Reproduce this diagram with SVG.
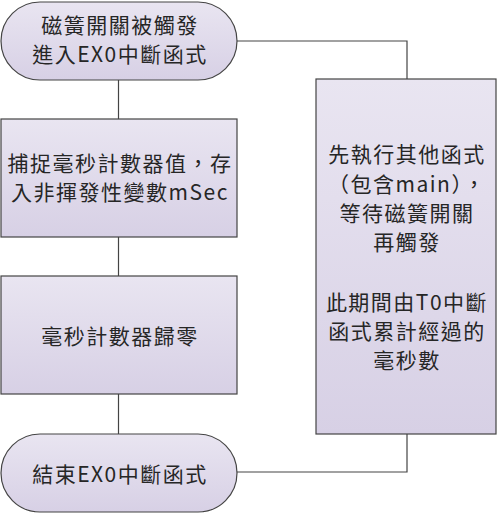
<svg xmlns="http://www.w3.org/2000/svg" width="497" height="514" viewBox="0 0 497 514">
<defs>
<linearGradient id="g" x1="0" y1="0" x2="0" y2="1">
<stop offset="0" stop-color="#e9e5f1"/>
<stop offset="1" stop-color="#d7d0e5"/>
</linearGradient>
<style>
.n{fill:url(#g);stroke:#444;stroke-width:1.2}
.t{font-family:"Noto Sans CJK TC","Noto Sans CJK SC",sans-serif;font-size:21px;letter-spacing:1.5px;fill:#262626;text-anchor:middle;dominant-baseline:central}
.c{fill:none;stroke:#444;stroke-width:1.2}
</style>
</defs>
<g id="connectors">
<path class="c" d="M118.5 80V119"/>
<path class="c" d="M118.5 237V276"/>
<path class="c" d="M118.5 394V434"/>
<path class="c" d="M237 41H407V79"/>
<path class="c" d="M237 472H407V434"/>
</g>
<g id="start">
<rect class="n" x="1" y="2" width="236" height="78" rx="39" ry="39"/>
<text class="t" x="120" y="24">磁簧開關被觸發</text>
<text class="t" x="120" y="53">進入EX0中斷函式</text>
</g>
<g id="capture">
<rect class="n" x="1" y="119" width="236" height="118"/>
<text class="t" x="120" y="162">捕捉毫秒計數器值，存</text>
<text class="t" x="120" y="191">入非揮發性變數mSec</text>
</g>
<g id="reset">
<rect class="n" x="1" y="276" width="236" height="118"/>
<text class="t" x="120" y="335">毫秒計數器歸零</text>
</g>
<g id="end">
<rect class="n" x="1" y="434" width="236" height="78" rx="39" ry="39"/>
<text class="t" x="120" y="473">結束EX0中斷函式</text>
</g>
<g id="wait">
<rect class="n" x="316" y="79" width="180" height="355"/>
<text class="t" x="407" y="153">先執行其他函式</text>
<text class="t" x="407" y="183">（包含main），</text>
<text class="t" x="407" y="212">等待磁簧開關</text>
<text class="t" x="407" y="241">再觸發</text>
<text class="t" x="407" y="301">此期間由T0中斷</text>
<text class="t" x="407" y="330">函式累計經過的</text>
<text class="t" x="407" y="359">毫秒數</text>
</g>
</svg>
